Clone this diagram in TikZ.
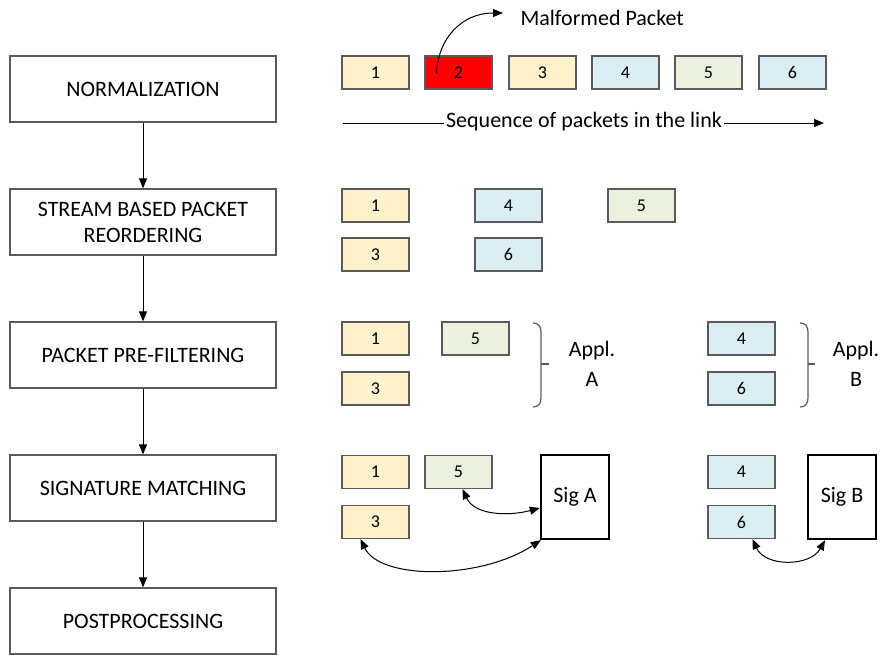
\documentclass[tikz,border=0pt]{standalone}
\usepackage{fontspec}
\setmainfont{Carlito}
\usetikzlibrary{arrows.meta}
\definecolor{pktyellow}{HTML}{FFF2CC}
\definecolor{pktblue}{HTML}{DAEEF3}
\definecolor{pktgreen}{HTML}{EBF1DE}
\definecolor{pktred}{HTML}{FF0000}
\definecolor{edgegray}{HTML}{5A5A5A}

\begin{document}
\begin{tikzpicture}[x=1pt,y=-1pt,
  stage/.style={draw=edgegray, line width=1.3pt, minimum width=266pt,
    minimum height=66pt, inner sep=0pt, align=center,
    font=\fontsize{22}{26}\selectfont},
  pkt/.style={draw=edgegray, line width=1.2pt, minimum width=67pt,
    minimum height=33pt, inner sep=0pt, font=\fontsize{18}{20}\selectfont},
  yel/.style={pkt, fill=pktyellow},
  blu/.style={pkt, fill=pktblue},
  grn/.style={pkt, fill=pktgreen},
  bad/.style={pkt, fill=pktred},
  sigbox/.style={draw=black, line width=2.4pt, minimum width=68pt,
    minimum height=84pt, inner sep=0pt, font=\fontsize{22}{26}\selectfont},
  flow/.style={-{Triangle[length=10pt,width=8pt]}, line width=1pt},
  link/.style={{Triangle[length=10pt,width=8pt]}-{Triangle[length=10pt,width=8pt]}, line width=1pt},
  brace/.style={draw=edgegray, line width=1.2pt},
  lbl/.style={align=center, font=\fontsize{22}{30}\selectfont}]

\useasboundingbox (0,0) rectangle (881,657);

% processing stages
\node[stage] (norm) at (143,89)  {NORMALIZATION};
\node[stage] (reord) at (143,222) {STREAM BASED PACKET\\REORDERING};
\node[stage] (pref) at (143,355) {PACKET PRE-FILTERING};
\node[stage] (sigm) at (143,488) {SIGNATURE MATCHING};
\node[stage] (post) at (143,621) {POSTPROCESSING};
\draw[flow] (norm) -- (reord);
\draw[flow] (reord) -- (pref);
\draw[flow] (pref) -- (sigm);
\draw[flow] (sigm) -- (post);

% packets on the link
\node[yel] (a1) at (375.5,72.5) {1};
\node[bad] (a2) at (458.5,72.5) {2};
\node[yel] (a3) at (542.5,72.5) {3};
\node[blu] (a4) at (625.5,72.5) {4};
\node[grn] (a5) at (708.5,72.5) {5};
\node[blu] (a6) at (792.5,72.5) {6};

\coordinate (mtip) at (503,13);
\draw[flow] ([xshift=-22pt,yshift=-1pt]a2.center) .. controls (438,38) and (462,13) .. (mtip);
\node[anchor=west, font=\fontsize{22}{26}\selectfont] (mal) at (517,18) {Malformed Packet};

\coordinate (seqL) at (343,123);
\coordinate (seqR) at (824,123);
\draw[flow] (seqL) -- (seqR);
\node[fill=white, inner xsep=2pt, inner ysep=1pt, font=\fontsize{22}{26}\selectfont] (seq) at (584,122) {Sequence of packets in the link};

% packets after reordering
\node[yel] (b1) at (375.5,205.5) {1};
\node[blu] (b4) at (508.5,205.5) {4};
\node[grn] (b5) at (641.5,205.5) {5};
\node[yel] (b3) at (375.5,254.5) {3};
\node[blu] (b6) at (508.5,254.5) {6};

% packets after pre-filtering
\node[yel] (c1) at (375.5,338.5) {1};
\node[grn] (c5) at (475.5,338.5) {5};
\node[yel] (c3) at (375.5,388.5) {3};
\node[blu] (c4) at (741.5,338.5) {4};
\node[blu] (c6) at (741.5,388.5) {6};

\draw[brace] (533,323) .. controls (538,323) and (541,326) .. (541,332)
  -- (541,398) .. controls (541,404) and (538,407) .. (533,407);
\draw[brace] (541,364) -- (549,364);
\node[lbl] (applA) at (592,364) {Appl.\\A};

\draw[brace] (800,323) .. controls (805,323) and (808,326) .. (808,332)
  -- (808,398) .. controls (808,404) and (805,407) .. (800,407);
\draw[brace] (808,364) -- (815,364);
\node[lbl] (applB) at (856,364) {Appl.\\B};

% signature matching
\node[yel] (d1) at (375.5,472) {1};
\node[grn] (d5) at (458.5,472) {5};
\node[yel] (d3) at (375.5,522) {3};
\node[blu] (d4) at (741.5,472) {4};
\node[blu] (d6) at (741.5,522) {6};
\node[sigbox] (sA) at (575,497) {Sig A};
\node[sigbox] (sB) at (842,497) {Sig B};

\draw[link] ([xshift=4pt]d5.south) .. controls (475,516) and (510,516) .. ([yshift=-11pt]sA.west);
\draw[link] ([xshift=-15pt]d3.south) .. controls (380,580) and (480,580) .. ([xshift=1pt]sA.south west);
\draw[link] ([xshift=11pt]d6.south) .. controls (765,567) and (810,567) .. ([xshift=-17pt]sB.south);
\end{tikzpicture}
\end{document}
